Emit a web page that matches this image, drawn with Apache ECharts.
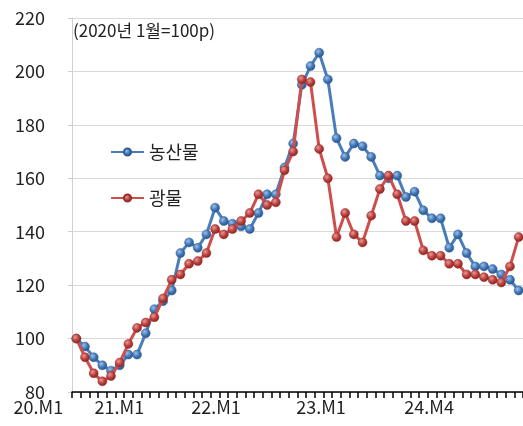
<!DOCTYPE html>
<html>
<head>
<meta charset="utf-8">
<script src="https://cdn.jsdelivr.net/npm/echarts@6/dist/echarts.min.js"></script>
<style>
  html, body { margin: 0; padding: 0; background: #fff; }
  #chart { width: 523px; height: 426px; }
</style>
</head>
<body>
<div id="chart"></div>
<script>
// Monthly index, January 2020 = 100
const months = [
  '20.M1','20.M2','20.M3','20.M4','20.M5','20.M6','20.M7','20.M8','20.M9','20.M10','20.M11','20.M12',
  '21.M1','21.M2','21.M3','21.M4','21.M5','21.M6','21.M7','21.M8','21.M9','21.M10','21.M11','21.M12',
  '22.M1','22.M2','22.M3','22.M4','22.M5','22.M6','22.M7','22.M8','22.M9','22.M10','22.M11','22.M12',
  '23.M1','23.M2','23.M3','23.M4','23.M5','23.M6','23.M7','23.M8','23.M9','23.M10','23.M11','23.M12',
  '24.M1','24.M2','24.M3','24.M4'
];

const agri = [
  100, 97, 93, 90, 88, 90, 94, 94, 102, 111, 114, 118,
  132, 136, 134, 139, 149, 144, 143, 142, 141, 147, 154, 154,
  164, 173, 195, 202, 207, 197, 175, 168, 173, 172, 168, 161,
  160, 161, 153, 155, 148, 145, 145, 134, 139, 132, 127, 127,
  126, 124, 122, 118
];

const minerals = [
  100, 93, 87, 84, 86, 91, 98, 104, 106, 108, 115, 122,
  124, 128, 129, 132, 141, 139, 141, 144, 147, 154, 150, 151,
  163, 170, 197, 196, 171, 160, 138, 147, 139, 136, 146, 156,
  161, 154, 144, 144, 133, 131, 131, 128, 128, 124, 124, 123,
  122, 121, 127, 138
];

const seriesNames = ['농산물', '광물'];
const baseNote = '(2020년 1월=100p)';
const shownTicks = ['20.M1', '21.M1', '22.M1', '23.M1', '24.M4'];
const yTicks = [80, 100, 120, 140, 160, 180, 200, 220];

const FONT = '"Noto Sans CJK KR", "Noto Sans", sans-serif';

// horizontal nudge (px of right padding) for each bottom label
const labelPad = { '20.M1': 76, '21.M1': 122, '22.M1': 137, '23.M1': 135, '24.M4': 179 };
const rich = {};
shownTicks.forEach((t, k) => {
  rich['t' + k] = { fontSize: 18, fontFamily: FONT, color: '#222', padding: [0, labelPad[t], 0, 0] };
});

function ball(light, mid, dark) {
  return {
    type: 'radial', x: 0.38, y: 0.35, r: 0.7,
    colorStops: [
      { offset: 0, color: light },
      { offset: 0.55, color: mid },
      { offset: 1, color: dark }
    ]
  };
}

const chart = echarts.init(document.getElementById('chart'), null, { renderer: 'canvas' });
chart.setOption({
  animation: false,
  backgroundColor: '#fff',
  textStyle: { fontFamily: FONT },
  grid: { left: 72, right: 0, top: 18, bottom: 34, containLabel: false },
  legend: {
    orient: 'vertical',
    left: 105,
    top: 138,
    itemWidth: 33,
    itemHeight: 9,
    itemGap: 28,
    data: seriesNames,
    textStyle: { fontSize: 18, fontFamily: FONT, color: '#222', lineHeight: 18 }
  },
  graphic: [{
    type: 'text',
    left: 73,
    top: 22,
    style: { text: baseNote, fontSize: 17, fontFamily: FONT, fill: '#222' }
  }],
  xAxis: {
    type: 'category',
    data: months,
    boundaryGap: true,
    axisLine: { show: true, lineStyle: { color: '#000', width: 1.5 } },
    axisTick: { show: true, interval: 0, length: 6, lineStyle: { color: '#000', width: 1.5 } },
    axisLabel: {
      show: true,
      interval: 0,
      margin: 6,
      formatter: (val) => {
        const k = shownTicks.indexOf(val);
        return k >= 0 ? '{t' + k + '|' + val + '}' : '';
      },
      rich: rich
    },
    splitLine: { show: false }
  },
  yAxis: {
    type: 'value',
    min: yTicks[0],
    max: yTicks[yTicks.length - 1],
    interval: 20,
    axisLine: { show: true, lineStyle: { color: '#d0d0d0', width: 1 } },
    axisTick: { show: true, length: 4, lineStyle: { color: '#d0d0d0' } },
    axisLabel: { fontSize: 18, fontFamily: FONT, color: '#222', margin: 27 },
    splitLine: { show: true, lineStyle: { color: '#d9d9d9', width: 1 } }
  },
  series: [
    {
      name: seriesNames[0],
      type: 'line',
      data: agri,
      symbol: 'circle',
      symbolSize: 9,
      showAllSymbol: true,
      lineStyle: { color: '#4a7ebb', width: 3 },
      itemStyle: { color: ball('#9cc0ea', '#3f74b3', '#27507f'), borderColor: '#2f5f98', borderWidth: 0.5 },
      z: 2
    },
    {
      name: seriesNames[1],
      type: 'line',
      data: minerals,
      symbol: 'circle',
      symbolSize: 9,
      showAllSymbol: true,
      lineStyle: { color: '#cf4e4c', width: 3 },
      itemStyle: { color: ball('#e79a98', '#b83c39', '#7d2220'), borderColor: '#9b2f2d', borderWidth: 0.5 },
      z: 3
    }
  ]
});
</script>
</body>
</html>
